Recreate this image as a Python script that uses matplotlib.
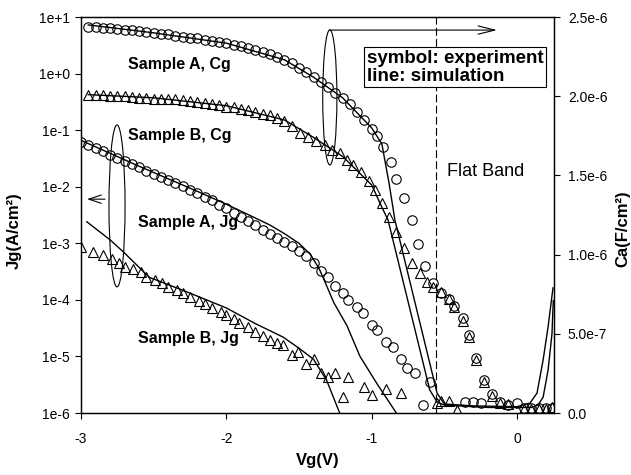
import numpy as np
import matplotlib
matplotlib.use('Agg')
import matplotlib.pyplot as plt
from matplotlib.patches import Ellipse
from matplotlib.ticker import NullLocator

plt.rcParams['font.family'] = ['Liberation Sans', 'DejaVu Sans']

# ---- gate current density, left axis (A/cm2) ----
vg_jg_a = [-3.00, -2.95, -2.90, -2.85, -2.80, -2.75, -2.70, -2.65, -2.60, -2.55,
           -2.50, -2.45, -2.40, -2.35, -2.30, -2.25, -2.20, -2.15, -2.10, -2.05,
           -2.00, -1.95, -1.90, -1.85, -1.80, -1.75, -1.70, -1.65, -1.60, -1.55,
           -1.50, -1.45, -1.40, -1.35, -1.30, -1.25, -1.20, -1.16, -1.10, -1.06,
           -1.00, -0.96, -0.90, -0.85, -0.80, -0.76, -0.70, -0.65, -0.60, -0.36,
           -0.30, -0.25]
jg_a = [6.3e-2, 5.5e-2, 4.8e-2, 4.2e-2, 3.6e-2, 3.2e-2, 2.8e-2, 2.5e-2, 2.2e-2, 1.9e-2,
        1.7e-2, 1.48e-2, 1.32e-2, 1.15e-2, 1.02e-2, 8.9e-3, 7.8e-3, 6.6e-3, 5.75e-3, 4.8e-3,
        4.2e-3, 3.5e-3, 2.95e-3, 2.45e-3, 2.1e-3, 1.7e-3, 1.48e-3, 1.26e-3, 1.07e-3, 8.9e-4,
        7.2e-4, 5.9e-4, 4.4e-4, 3.2e-4, 2.5e-4, 1.74e-4, 1.32e-4, 1.0e-4, 7.4e-5, 5.9e-5,
        3.6e-5, 2.95e-5, 1.82e-5, 1.48e-5, 8.9e-6, 6.3e-6, 5.1e-6, 1.38e-6, 3.5e-6, 1.55e-6,
        1.55e-6, 1.48e-6]
vg_jg_a_sim = [-3.00, -2.60, -2.20, -2.00, -1.80, -1.70, -1.60, -1.50, -1.42, -1.36,
               -1.31, -1.26, -1.17, -1.08, -0.96, -0.83]
jg_a_sim = [6.6e-2, 2.3e-2, 8.3e-3, 4.9e-3, 2.8e-3, 2.1e-3, 1.48e-3, 1.0e-3, 6.3e-4, 3.5e-4,
            1.78e-4, 8.9e-5, 3.5e-5, 1.0e-5, 3.2e-6, 1.0e-6]

vg_jg_b = [-3.00, -2.92, -2.85, -2.79, -2.74, -2.70, -2.64, -2.59, -2.55, -2.49,
           -2.44, -2.40, -2.34, -2.30, -2.25, -2.19, -2.15, -2.10, -2.04, -2.00,
           -1.95, -1.91, -1.85, -1.80, -1.75, -1.70, -1.65, -1.61, -1.55, -1.51,
           -1.45, -1.40, -1.35, -1.30, -1.25, -1.20, -1.16, -1.05, -1.00, -0.90,
           -0.80, -0.55, -0.52, -0.47, -0.41]
jg_b = [8.7e-4, 7.1e-4, 6.2e-4, 5.2e-4, 4.5e-4, 3.8e-4, 3.5e-4, 3.1e-4, 2.5e-4, 2.2e-4,
        2.0e-4, 1.7e-4, 1.48e-4, 1.32e-4, 1.12e-4, 9.5e-5, 8.5e-5, 7.2e-5, 6.2e-5, 5.4e-5,
        4.6e-5, 3.9e-5, 3.3e-5, 2.7e-5, 2.3e-5, 1.95e-5, 1.74e-5, 1.58e-5, 1.07e-5, 1.2e-5,
        7.4e-6, 8.9e-6, 5.2e-6, 4.4e-6, 5.1e-6, 1.9e-6, 4.4e-6, 2.9e-6, 2.1e-6, 2.7e-6,
        2.3e-6, 1.5e-6, 1.6e-6, 1.6e-6, 1.15e-6]
vg_jg_b_sim = [-2.96, -2.80, -2.71, -2.53, -2.30, -2.00, -1.80, -1.61, -1.50, -1.40,
               -1.31, -1.27, -1.22]
jg_b_sim = [2.4e-3, 1.15e-3, 7.1e-4, 2.5e-4, 1.48e-4, 7.2e-5, 3.8e-5, 2.2e-5, 1.4e-5, 8.9e-6,
            3.8e-6, 2.1e-6, 1.0e-6]

# ---- gate capacitance, right axis (uF/cm2) ----
vg_cg_a = [-2.95, -2.90, -2.85, -2.80, -2.75, -2.70, -2.65, -2.60, -2.55, -2.50,
           -2.45, -2.40, -2.35, -2.30, -2.25, -2.20, -2.15, -2.10, -2.05, -2.00,
           -1.95, -1.90, -1.85, -1.80, -1.75, -1.70, -1.65, -1.60, -1.55, -1.50,
           -1.45, -1.40, -1.35, -1.30, -1.25, -1.20, -1.15, -1.10, -1.05, -1.00,
           -0.96, -0.92, -0.87, -0.83, -0.78, -0.72, -0.68, -0.63, -0.58, -0.52,
           -0.47, -0.43, -0.37, -0.33, -0.28, -0.23, -0.17, -0.12, -0.06, 0.00,
           0.05, 0.10, 0.15, 0.20, 0.24]
cg_a = [2.44, 2.435, 2.43, 2.43, 2.425, 2.42, 2.415, 2.41, 2.405, 2.40,
        2.395, 2.39, 2.38, 2.375, 2.37, 2.365, 2.355, 2.35, 2.34, 2.335,
        2.325, 2.315, 2.305, 2.29, 2.28, 2.265, 2.25, 2.23, 2.21, 2.18,
        2.15, 2.12, 2.09, 2.06, 2.02, 1.99, 1.95, 1.90, 1.85, 1.79,
        1.75, 1.68, 1.585, 1.48, 1.357, 1.218, 1.07, 0.93, 0.82, 0.76,
        0.72, 0.675, 0.60, 0.49, 0.347, 0.208, 0.12, 0.07, 0.05, 0.063,
        0.03, 0.03, 0.03, 0.03, 0.03]
vg_cg_a_sim = [-2.95, -2.50, -2.00, -1.60, -1.40, -1.20, -1.00, -0.93, -0.88, -0.84,
               -0.55, -0.50, -0.30, 0.00, 0.09, 0.138, 0.18, 0.214, 0.248]
cg_a_sim = [2.45, 2.40, 2.335, 2.23, 2.12, 1.99, 1.80, 1.70, 1.45, 1.218,
            0.126, 0.057, 0.045, 0.04, 0.063, 0.126, 0.335, 0.543, 0.79]

vg_cg_b = [-2.95, -2.90, -2.85, -2.80, -2.75, -2.70, -2.65, -2.60, -2.55, -2.50,
           -2.45, -2.40, -2.35, -2.30, -2.25, -2.20, -2.15, -2.10, -2.05, -2.00,
           -1.95, -1.90, -1.85, -1.80, -1.75, -1.70, -1.65, -1.60, -1.55, -1.49,
           -1.44, -1.38, -1.32, -1.27, -1.22, -1.17, -1.13, -1.07, -1.02, -0.98,
           -0.93, -0.88, -0.83, -0.78, -0.72, -0.67, -0.62, -0.58, -0.52, -0.47,
           -0.43, -0.37, -0.33, -0.28, -0.23, -0.17, -0.12, -0.06, 0.05, 0.10,
           0.15, 0.20, 0.24]
cg_b = [2.01, 2.005, 2.005, 2.0, 2.0, 2.0, 1.995, 1.99, 1.99, 1.985,
        1.985, 1.98, 1.98, 1.975, 1.97, 1.965, 1.96, 1.95, 1.945, 1.935,
        1.93, 1.92, 1.91, 1.90, 1.89, 1.88, 1.865, 1.845, 1.81, 1.77,
        1.74, 1.72, 1.69, 1.66, 1.64, 1.60, 1.566, 1.52, 1.465, 1.41,
        1.326, 1.237, 1.143, 1.04, 0.947, 0.884, 0.827, 0.795, 0.764, 0.72,
        0.67, 0.58, 0.48, 0.335, 0.196, 0.107, 0.063, 0.057, 0.025, 0.025,
        0.025, 0.025, 0.035]
vg_cg_b_sim = [-2.95, -2.50, -2.00, -1.60, -1.40, -1.20, -1.00, -0.93, -0.887, -0.60,
               -0.55, -0.50, -0.20, 0.10, 0.145, 0.18, 0.214, 0.241, 0.25]
cg_b_sim = [2.01, 1.99, 1.94, 1.85, 1.74, 1.62, 1.44, 1.30, 1.218, 0.145,
            0.07, 0.05, 0.035, 0.035, 0.05, 0.10, 0.27, 0.50, 0.71]

flat_band = -0.557
ytick_left = ['1e-6', '1e-5', '1e-4', '1e-3', '1e-2', '1e-1', '1e+0', '1e+1']
ytick_right = ['0.0', '5.0e-7', '1.0e-6', '1.5e-6', '2.0e-6', '2.5e-6']
cap_unit = 1e-6

fig = plt.figure(figsize=(6.31, 4.75), dpi=100)
ax = fig.add_axes([0.1284, 0.1305, 0.7496, 0.8337])
ax2 = ax.twinx()

mk = dict(mfc='none', mec='k', mew=0.8, ls='none')
ax.plot(vg_jg_a, jg_a, marker='o', ms=6.8, **mk)
ax.plot(vg_jg_b, jg_b, marker='^', ms=6.8, **mk)
ax.plot(vg_jg_a_sim, jg_a_sim, color='k', lw=1.0)
ax.plot(vg_jg_b_sim, jg_b_sim, color='k', lw=1.0)

ax2.plot(vg_cg_a, np.array(cg_a) * cap_unit, marker='o', ms=6.8, **mk)
ax2.plot(vg_cg_b, np.array(cg_b) * cap_unit, marker='^', ms=6.8, **mk)
ax2.plot(vg_cg_a_sim, np.array(cg_a_sim) * cap_unit, color='k', lw=1.0)
ax2.plot(vg_cg_b_sim, np.array(cg_b_sim) * cap_unit, color='k', lw=1.0)
ax2.axvline(flat_band, color='k', lw=0.8, ls=(0, (7, 3)))

ax.set_yscale('log')
ax.set_ylim(1e-6, 1e1)
ax.set_xlim(-3, 0.255)
ax.set_yticks([10.0 ** k for k in range(-6, 2)])
ax.set_yticklabels(ytick_left)
ax.yaxis.set_minor_locator(NullLocator())
ax.set_xticks([-3, -2, -1, 0])
ax.set_xticklabels(['-3', '-2', '-1', '0'])
ax.tick_params(axis='y', direction='out', length=4, width=0.8, labelsize=10, pad=4)
ax.tick_params(axis='x', direction='out', length=4, width=0.8, labelsize=10, pad=10)

ax2.set_ylim(0, 2.5e-6)
ax2.set_yticks([0, 5e-7, 1e-6, 1.5e-6, 2e-6, 2.5e-6])
ax2.set_yticklabels(ytick_right)
ax2.tick_params(axis='y', direction='out', length=4, width=0.8, labelsize=10, pad=6)

for a in (ax, ax2):
    for s in a.spines.values():
        s.set_linewidth(0.9)

ax.set_xlabel('Vg(V)', fontsize=12, fontweight='bold')
ax.xaxis.set_label_coords(0.5, -0.102)
ax.set_ylabel('Jg(A/cm²)', fontsize=12, fontweight='bold')
ax.yaxis.set_label_coords(-0.125, 0.46)
ax2.set_ylabel('Ca(F/cm²)', rotation=90, fontsize=12, fontweight='bold')
ax2.yaxis.set_label_coords(1.13, 0.465)

# annotations
tr = ax2.transAxes
ax2.add_patch(Ellipse((0.0761, 0.523), 0.034, 0.409, transform=tr,
                      fill=False, ec='k', lw=0.8))
ax2.add_patch(Ellipse((0.526, 0.797), 0.030, 0.341, transform=tr,
                      fill=False, ec='k', lw=0.8))
ax2.annotate('', xy=(0.0127, 0.540), xytext=(0.0507, 0.540), xycoords=tr,
             arrowprops=dict(arrowstyle='->,head_length=0.9,head_width=0.3',
                             lw=0.8, color='k', shrinkA=0, shrinkB=0))
ax2.annotate('', xy=(0.8795, 0.967), xytext=(0.526, 0.967), xycoords=tr,
             arrowprops=dict(arrowstyle='->,head_length=1.2,head_width=0.3',
                             lw=0.8, color='k', shrinkA=0, shrinkB=0))

lab = dict(transform=tr, fontsize=11.5, fontweight='bold', va='center', ha='left')
ax2.text(0.099, 0.879, 'Sample A, Cg', **lab)
ax2.text(0.099, 0.702, 'Sample B, Cg', **lab)
ax2.text(0.120, 0.480, 'Sample A, Jg', **lab)
ax2.text(0.120, 0.189, 'Sample B, Jg', **lab)
ax2.text(0.774, 0.609, 'Flat Band', transform=tr, fontsize=13, va='center', ha='left')
ax2.text(0.604, 0.873, 'symbol: experiment\nline: simulation', transform=tr,
         fontsize=13.5, fontweight='bold', va='center', ha='left', linespacing=1.05,
         bbox=dict(boxstyle='square,pad=0.15', fc='white', ec='k', lw=0.8))

fig.savefig('out.png', dpi=100)
